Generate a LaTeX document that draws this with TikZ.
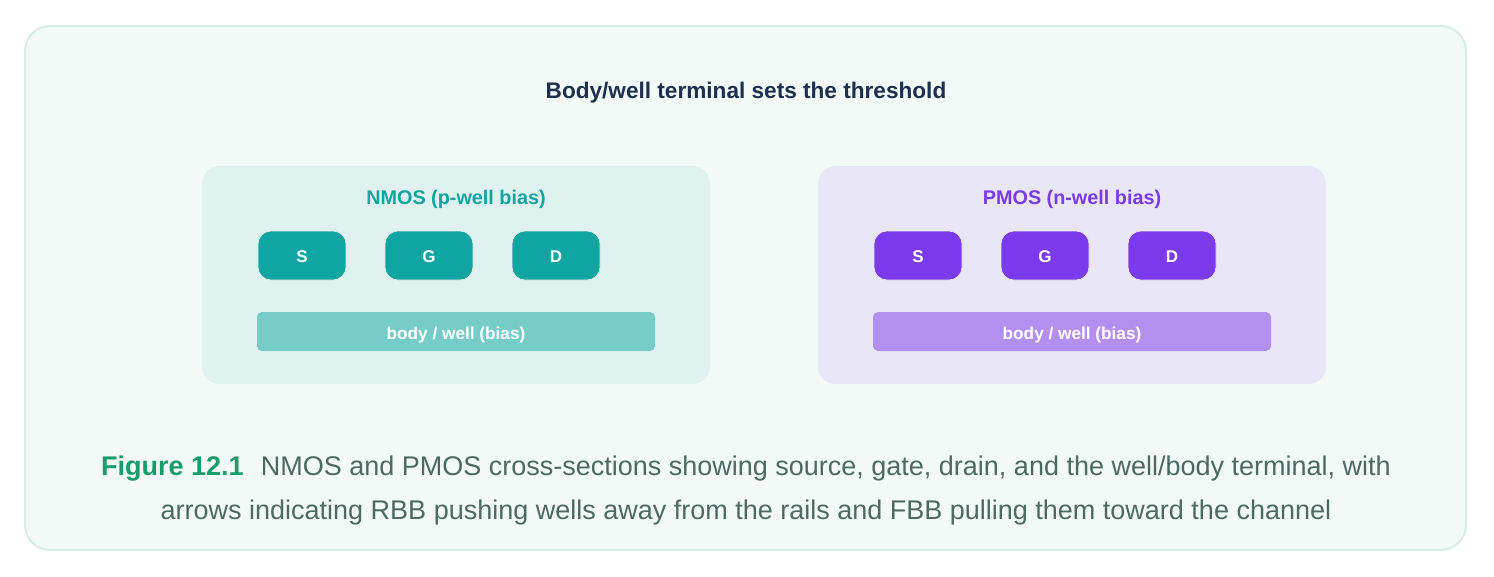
\documentclass[tikz,border=0pt]{standalone}
\usepackage{fontspec}
\setmainfont{Liberation Sans}
\definecolor{frameedge}{HTML}{D6EEE6}
\definecolor{framefill}{HTML}{F3F9F7}
\definecolor{titlecol}{HTML}{1E3050}
\definecolor{nfill}{HTML}{DFF2EF}
\definecolor{ncol}{HTML}{10A5A2}
\definecolor{nbar}{HTML}{76CCC8}
\definecolor{pfill}{HTML}{E8E6F7}
\definecolor{pcol}{HTML}{7C3AED}
\definecolor{pbar}{HTML}{B48FF2}
\definecolor{figgreen}{HTML}{179C6C}
\definecolor{capcol}{HTML}{4B6B62}
\tikzset{
  panel/.style={rounded corners=18pt, draw=none},
  term/.style={rounded corners=13pt, minimum width=88pt, minimum height=49pt, inner sep=0pt,
     text=white, font=\fontsize{17}{20}\selectfont\bfseries, draw=white!85!gray, line width=0.6pt,
     text depth=0pt},
  bar/.style={rounded corners=5pt, minimum width=398pt, minimum height=39pt, inner sep=0pt,
     text=white, font=\fontsize{17.2}{20}\selectfont\bfseries, text depth=0pt},
  ptitle/.style={font=\fontsize{19.8}{23}\selectfont\bfseries}
}
\begin{document}
\begin{tikzpicture}[x=1pt,y=-1pt]
\useasboundingbox (0,0) rectangle (1494,576);
\fill[white] (0,0) rectangle (1494,576);
\draw[frameedge, fill=framefill, line width=2pt, rounded corners=25pt] (25,26) rectangle (1466,550);
\node[text=titlecol, font=\fontsize{22.6}{27}\selectfont\bfseries] (title) at (746,92.5) {Body/well terminal sets the threshold};
% NMOS
\fill[nfill, panel] (202,166) rectangle (710,384);
\node[ptitle, text=ncol] (ntitle) at (456,199) {NMOS (p-well bias)};
\node[term, fill=ncol] (ns) at (302,255.5) {\raisebox{-2pt}{S}};
\node[term, fill=ncol] (ng) at (429,255.5) {\raisebox{-2pt}{G}};
\node[term, fill=ncol] (nd) at (556,255.5) {\raisebox{-2pt}{D}};
\node[bar, fill=nbar] (nbody) at (456,331.5) {\raisebox{-3.5pt}{body / well (bias)}};
% PMOS
\fill[pfill, panel] (818,166) rectangle (1326,384);
\node[ptitle, text=pcol] (ptitle) at (1072,199) {PMOS (n-well bias)};
\node[term, fill=pcol] (ps) at (918,255.5) {\raisebox{-2pt}{S}};
\node[term, fill=pcol] (pg) at (1045,255.5) {\raisebox{-2pt}{G}};
\node[term, fill=pcol] (pd) at (1172,255.5) {\raisebox{-2pt}{D}};
\node[bar, fill=pbar] (pbody) at (1072,331.5) {\raisebox{-3.5pt}{body / well (bias)}};
% caption
\node[align=center, text=capcol, font=\fontsize{27}{44}\selectfont] (cap) at (746,490.5)
 {{\color{figgreen}\bfseries Figure 12.1}\hspace{17pt}NMOS and PMOS cross-sections showing source, gate, drain, and the well/body terminal, with\\
 arrows indicating RBB pushing wells away from the rails and FBB pulling them toward the channel};
\end{tikzpicture}
\end{document}
